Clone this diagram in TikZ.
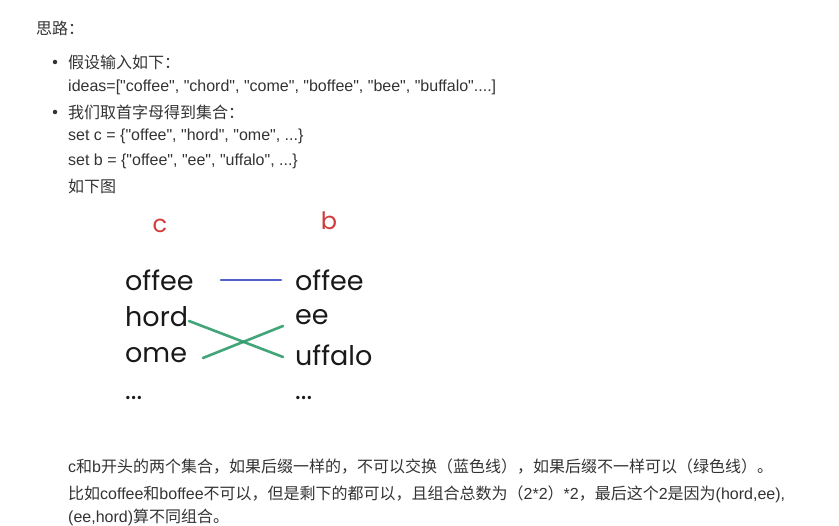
\documentclass[tikz,border=0pt]{standalone}
\usepackage{fontspec}
\setmainfont{Liberation Sans}[Ligatures=TeXOff]
\newfontfamily\cjk{Noto Sans CJK SC}
\newfontfamily\hand{Poppins}
\usetikzlibrary{positioning}
\definecolor{txt}{HTML}{333333}
\definecolor{redink}{HTML}{D23A3A}
\definecolor{blueink}{HTML}{3F4FC8}
\definecolor{greenink}{HTML}{2E9A6A}
\newcommand{\zh}[1]{{\cjk #1}}

\begin{document}
\begin{tikzpicture}[x=1pt, y=-1pt,
    line/.style ={font=\fontsize{16}{19}\selectfont, text=txt, anchor=west, inner sep=0pt},
    dot/.style  ={circle, fill=txt, minimum size=4.5pt, inner sep=0pt},
    word/.style ={font=\hand\fontsize{27}{30}\selectfont, text=black!90, anchor=west, inner sep=0pt},
    setlbl/.style={font=\hand\fontsize{24}{28}\selectfont, text=redink, inner sep=0pt},
    blueline/.style ={blueink, line width=2.6pt, line cap=round, opacity=.9},
    greenline/.style={greenink, line width=2.6pt, line cap=round, opacity=.9}
]
\useasboundingbox (0,0) rectangle (839,526);

% Intro text
\node[line] (title) at (36, 28) {\zh{思路：}};
\node[dot]  (bul1)  at (55, 62) {};
\node[line] (given) at (68, 62) {\zh{假设输入如下：}};
\node[line] (ideas) at (68, 87) {ideas=["coffee", "chord", "come", "boffee", "bee", "buffalo"....]};
\node[dot]  (bul2)  at (55, 112) {};
\node[line] (first) at (68, 112) {\zh{我们取首字母得到集合：}};
\node[line] (setc)  at (68, 136) {set c = \{"offee", "hord", "ome", ...\}};
\node[line] (setb)  at (68, 161) {set b = \{"offee", "ee", "uffalo", ...\}};
\node[line] (fig)   at (68, 186) {\zh{如下图}};

% The two sets
\node[setlbl] (lc) at (160, 226) {c};
\node[setlbl] (lb) at (329, 221) {b};

\node[word] (cOffee) at (125, 280) {offee};
\node[word] (cHord)  at (125, 317) {hord};
\node[word] (cOme)   at (125, 355) {ome};
\node[word] (cDots)  at (125, 398) {...};

\node[word] (bOffee)  at (295, 280) {offee};
\node[word] (bEe)     at (295, 317) {ee};
\node[word] (bUffalo) at (295, 355) {uffalo};
\node[word] (bDots)   at (295, 398) {...};

% same suffix: no swap
\draw[blueline] ([xshift=96pt]cOffee.west) -- ([xshift=-14pt]bOffee.west);
% different suffix: swap allowed
\draw[greenline] ([xshift=64pt,yshift=-4pt]cHord.west) -- ([xshift=-12pt,yshift=-2pt]bUffalo.west);
\draw[greenline] ([xshift=78pt,yshift=-3pt]cOme.west) -- ([xshift=-12pt,yshift=-9pt]bEe.west);

% Conclusion
\node[line] (note1) at (68, 467) {c\zh{和}b\zh{开头的两个集合，如果后缀一样的，不可以交换（蓝色线），如果后缀不一样可以（绿色线）。}};
\node[line] (note2) at (68, 494) {\zh{比如}coffee\zh{和}boffee\zh{不可以，但是剩下的都可以，且组合总数为（}2*2\zh{）}*2\zh{，最后这个}2\zh{是因为}(hord,ee),};
\node[line] (note3) at (68, 517) {(ee,hord)\zh{算不同组合。}};
\end{tikzpicture}
\end{document}
